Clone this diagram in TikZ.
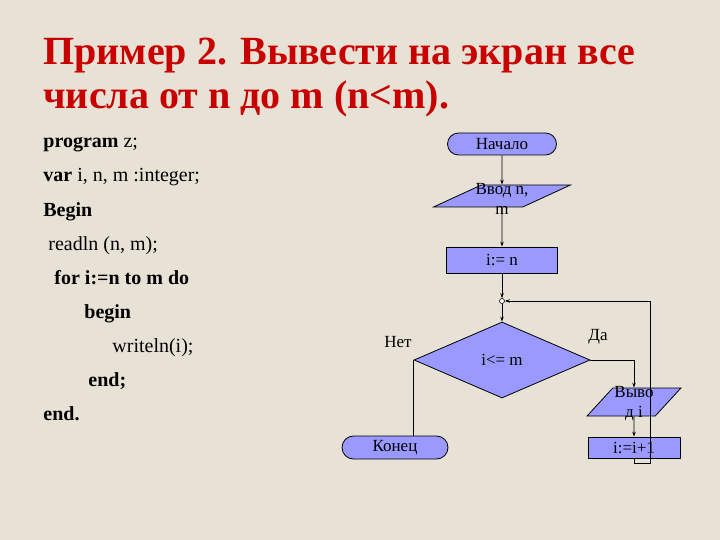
\documentclass[tikz,border=0pt]{standalone}
\usepackage{fontspec}
\setmainfont{Liberation Serif}
\usetikzlibrary{
  arrows.meta,
  shapes.geometric, shapes.misc,
  positioning,
}

\definecolor{paper}{RGB}{232,226,214}
\definecolor{boxblue}{RGB}{153,153,255}
\definecolor{titlered}{RGB}{200,0,0}

\begin{document}
\begin{tikzpicture}[
    x=1pt, y=-1pt,
    line width=0.8pt,
    arr/.style={-{Stealth[length=5pt, width=3.5pt]}, black},
    blk/.style={draw=black, fill=boxblue, inner sep=0pt, font=\fontsize{17}{18}\selectfont},
    term/.style={blk, rounded rectangle},
    proc/.style={blk, rectangle},
    io/.style={blk, trapezium, trapezium stretches=true, inner sep=1pt},
    test/.style={blk, diamond, minimum width=176pt, minimum height=76pt},
    lab/.style={font=\fontsize{17}{20}\selectfont, align=center, inner sep=0pt},
    code/.style={anchor=base west, inner sep=0pt, font=\fontsize{20}{24}\selectfont},
    head/.style={anchor=base west, inner sep=0pt, text=titlered, font=\fontsize{40}{45}\selectfont\bfseries},
  ]
  \fill[paper] (0,0) rectangle (720,540);
  \useasboundingbox (0,0) rectangle (720,540);

  % title
  \node[head] (title1) at (43,65) {Пример 2. Вывести на экран все};
  \node[head] (title2) at (43,109) {числа от n до m (n<m).};

  % program text
  \foreach \dx/\txt [count=\k] in {
      43/{\textbf{program} z;},
      43/{\textbf{var} i, n, m :integer;},
      43/{\textbf{Begin}},
      48/{readln (n, m);},
      54/{\textbf{for i:=n to m do}},
      84/{\textbf{begin}},
      112/{writeln(i);},
      88/{\textbf{end;}},
      43/{\textbf{end.}}} {
      \node[code] (code\k) at (\dx, 114+34*\k) {\txt};
    }

  % flowchart
  \node[term, minimum width=109pt, minimum height=22pt] (start) at (502,144) {Начало};
  \node[io, minimum width=137pt, minimum height=22pt,
    trapezium left angle=39, trapezium right angle=141] (in) at (502,196) {\phantom{x}};
  \node[lab, align=center] (inlab) at ([yshift=-3pt]in.center) {Ввод n,\\m};
  \node[proc, minimum width=111pt, minimum height=26pt] (init) at (502,260) {i:= n};
  \node[circle, draw, fill=white, minimum size=5pt, inner sep=0pt, line width=0.6pt] (join) at (502,301) {};
  \node[test] (cond) at (502,360) {i<= m};
  \node[io, minimum width=94pt, minimum height=28pt,
    trapezium left angle=57, trapezium right angle=123] (out) at (634,402) {\phantom{x}};
  \node[lab] (outlab) at ([yshift=-2pt]out.center) {Выво\\д i};
  \node[proc, minimum width=92pt, minimum height=21pt] (inc) at (634,447.5) {i:=i+1};
  \node[term, minimum width=106pt, minimum height=23pt] (stop) at (395,447.5) {Конец};
  \coordinate (back) at (650,301);

  \node[lab] (no) at (398,342) {Нет};
  \node[lab] (yes) at (598,337) {Да};

  \draw[arr] (start.south) -- (in.north);
  \draw[arr] (in.south) -- (init.north);
  \draw[arr] (init.south) -- (join.north);
  \draw[arr] (join.south) -- (cond.north);
  \draw[arr] (cond.east) -| (out.north);
  \draw[arr] (out.south) -- (inc.north);
  \draw[arr] (inc.south) -- ++(0,5) -| (back) -- (join.east);
  \draw (cond.west) -- (cond.west |- stop.north);
\end{tikzpicture}
\end{document}
